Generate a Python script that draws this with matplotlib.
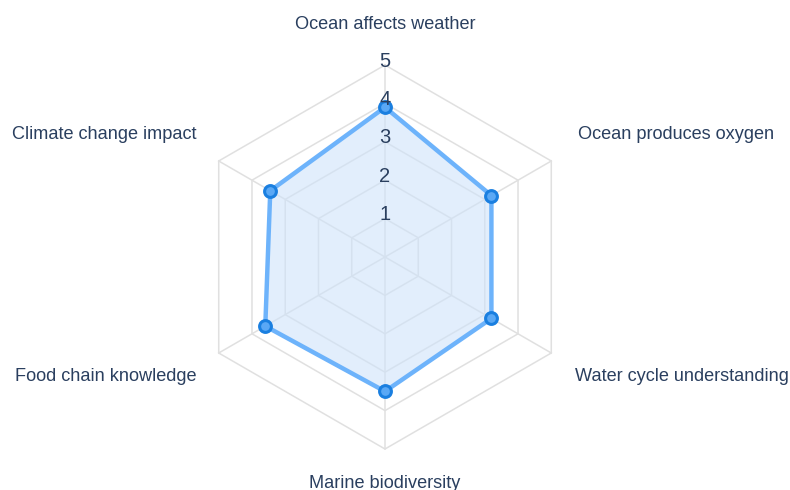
import numpy as np
import matplotlib
matplotlib.use("Agg")
import matplotlib.pyplot as plt

categories = ["Ocean affects weather", "Ocean produces oxygen", "Water cycle understanding",
              "Marine biodiversity", "Food chain knowledge", "Climate change impact"]
values = [3.9, 3.2, 3.2, 3.5, 3.6, 3.45]
r_ticks = [1, 2, 3, 4, 5]
r_max = 5

plt.rcParams['font.family'] = ['Liberation Sans', 'DejaVu Sans']
text_color = '#2a3f5f'
grid_color = '#e0e0e0'

fig = plt.figure(figsize=(7.9, 4.9), dpi=100)
W, H = 790, 490
cx, cy, R = 385, 257, 192
ax = fig.add_axes([(cx - R) / W, (H - cy - R) / H, 2 * R / W, 2 * R / H], projection='polar')
ax.set_theta_zero_location('N')
ax.set_theta_direction(-1)
ax.set_ylim(0, r_max)
ax.grid(False)
ax.spines['polar'].set_visible(False)
ax.set_xticks([])
ax.set_yticks([])
ax.patch.set_alpha(0)

n = len(categories)
theta = np.arange(n) * 2 * np.pi / n
theta_closed = np.append(theta, theta[0])

# hexagonal grid rings
for r in r_ticks:
    ax.plot(theta_closed, [r] * (n + 1), color=grid_color, lw=1.1, zorder=1, clip_on=False)
# spokes
for t in theta:
    ax.plot([t, t], [0, r_max], color=grid_color, lw=1.1, zorder=1, clip_on=False)

vals_closed = np.append(values, values[0])
ax.fill(theta_closed, vals_closed, color='#cfe3fa', alpha=0.6, zorder=2, lw=0)
ax.plot(theta_closed, vals_closed, color='#6db3fb', lw=3.2, zorder=3, solid_joinstyle='miter')
ax.plot(theta, values, 'o', ms=8.5, mfc='#5aa8f5', mec='#1a7fe0', mew=2.2, zorder=4, ls='none')

# radial tick labels along top axis
for r in r_ticks:
    ax.text(0, r + 0.1, str(r), ha='center', va='center', fontsize=14.5, color=text_color, zorder=5)

# category labels
offsets = [
    (0, 29, 'center', 'center'),
    (19, 19, 'left', 'center'),
    (17, -17, 'left', 'center'),
    (0, -25, 'center', 'center'),
    (-16, -17, 'right', 'center'),
    (-16, 19, 'right', 'center'),
]
for t, lab, (dx, dy, ha, va) in zip(theta, categories, offsets):
    ax.annotate(lab, xy=(t, r_max), xytext=(dx, dy), textcoords='offset points',
                ha=ha, va=va, fontsize=13.1, color=text_color, annotation_clip=False)

fig.savefig('out.png', dpi=100)
